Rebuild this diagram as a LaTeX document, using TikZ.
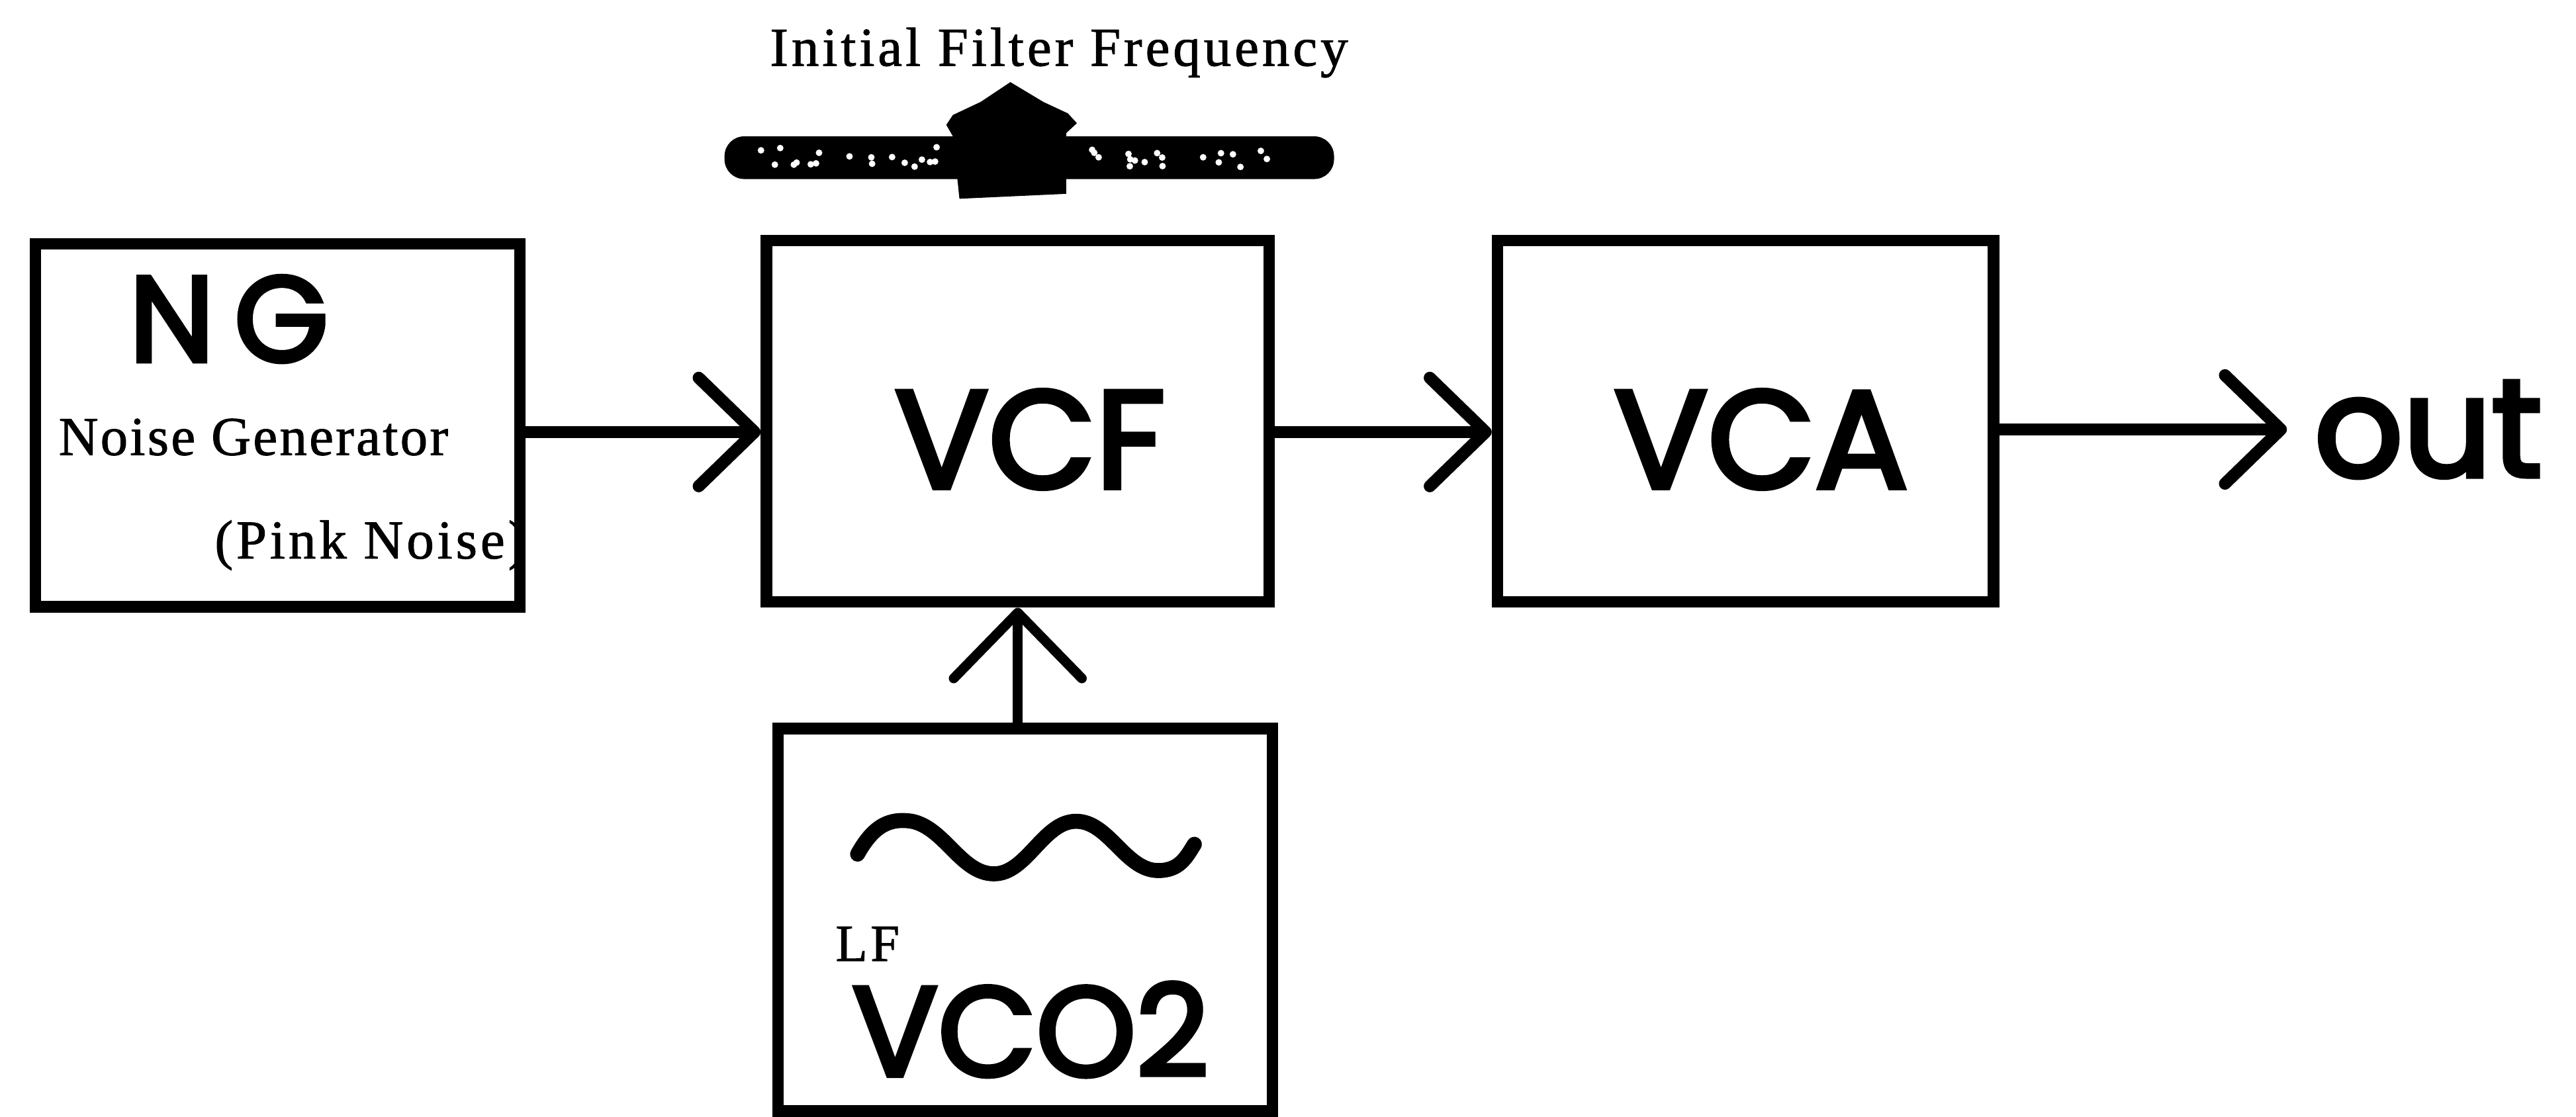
\documentclass[tikz,border=0pt]{standalone}
\usepackage{fontspec}
\setmainfont{Liberation Serif}
\newfontfamily\handfont[FakeBold=3.5]{Poppins}
\newfontfamily\printfont[LetterSpace=6, FakeBold=1.2]{Liberation Serif}
\usetikzlibrary{arrows.meta}

\begin{document}
\begin{tikzpicture}[
  blk/.style={draw, line width=2pt, inner sep=0pt},
  sig/.style={line width=2.1pt, line cap=round, -{Straight Barb[length=0.34cm, width=0.66cm, round]}},
  hand/.style={font=\handfont\fontsize{#1}{#1}\selectfont, inner sep=0pt},
  hand/.default=24,
  print/.style={font=\printfont\fontsize{#1}{#1}\selectfont, inner sep=0pt},
  print/.default=9.5]
  \useasboundingbox (0,0) rectangle (15.68,6.80);
  %% Boxes
  \node[blk, minimum width=2.95cm, minimum height=2.21cm] (ng) at (1.69,4.21) {};
  \node[blk, minimum width=3.06cm, minimum height=2.20cm] (vcf) at (6.195,4.235) {};
  \node[blk, minimum width=3.02cm, minimum height=2.20cm] (vca) at (10.625,4.235) {};
  \node[blk, minimum width=3.01cm, minimum height=2.33cm] (vco) at (6.24,1.20) {};
  %% Box labels
  \node[hand=21, anchor=base west] (nglbl) at (0.78,4.60) {N\hspace{0.12cm}G};
  \node[print, anchor=base west] (ngname) at (0.35,4.03) {\addfontfeatures{LetterSpace=4}Noise Generator};
  \node[print, anchor=base west] (pink) at (1.30,3.40) {(Pink Noise)};
  \node[hand, anchor=base] (vcflbl) at (6.27,3.83) {VCF};
  \node[hand, anchor=base] (vcalbl) at (10.72,3.83) {VCA};
  \node[print=9, anchor=base west] (lf) at (5.08,0.95) {LF};
  \node[hand=22, anchor=base west] (vcolbl) at (5.18,0.25) {VCO2};
  \node[hand, anchor=base west, inner sep=0.16cm] (out) at (13.92,3.90) {out};
  %% Knob for the initial frequency
  \node[print, anchor=base west] (iff) at (4.68,6.40) {Initial Filter Frequency};
  \fill[black, rounded corners=0.12cm] (4.41,5.71) rectangle (8.12,5.97);
  \pgfmathsetseed{11}
  \foreach \i in {1,...,18}{
    \fill[white] ({4.58+1.15*rnd},{5.78+0.13*rnd}) circle (0.02);
    \fill[white] ({6.64+1.33*rnd},{5.78+0.13*rnd}) circle (0.02);
  }
  \fill[black] (6.15,6.30) -- (6.35,6.18) -- (6.50,6.11) -- (6.555,6.05)
    -- (6.49,5.99) -- (6.49,5.62) -- (5.84,5.59) -- (5.80,5.97)
    -- (5.76,6.04) -- (5.80,6.10) -- (5.97,6.18) -- cycle;
  %% LF wave
  \draw[line width=2.6pt, line cap=round] (5.22,1.60) .. controls (5.32,1.78) and (5.42,1.82) .. (5.55,1.80)
    .. controls (5.75,1.76) and (5.85,1.48) .. (6.05,1.48)
    .. controls (6.25,1.48) and (6.35,1.80) .. (6.55,1.80)
    .. controls (6.75,1.80) and (6.85,1.50) .. (7.05,1.50)
    .. controls (7.18,1.50) and (7.22,1.58) .. (7.27,1.66);
  %% Signal flow
  \coordinate (ngout) at ([yshift=-0.04cm]ng.east);
  \coordinate (vcfout) at ([yshift=-0.065cm]vcf.east);
  \draw[sig] (ngout) -- (ngout -| vcf.west);
  \draw[sig] (vcfout) -- (vcfout -| vca.west);
  \draw[sig] (vca.east |- out.west) -- (out.west);
  \draw[sig, line width=1.7pt, -{Straight Barb[length=0.40cm, width=0.78cm, round]}] (vco.north -| vcf.south) -- (vcf.south);
\end{tikzpicture}
\end{document}
